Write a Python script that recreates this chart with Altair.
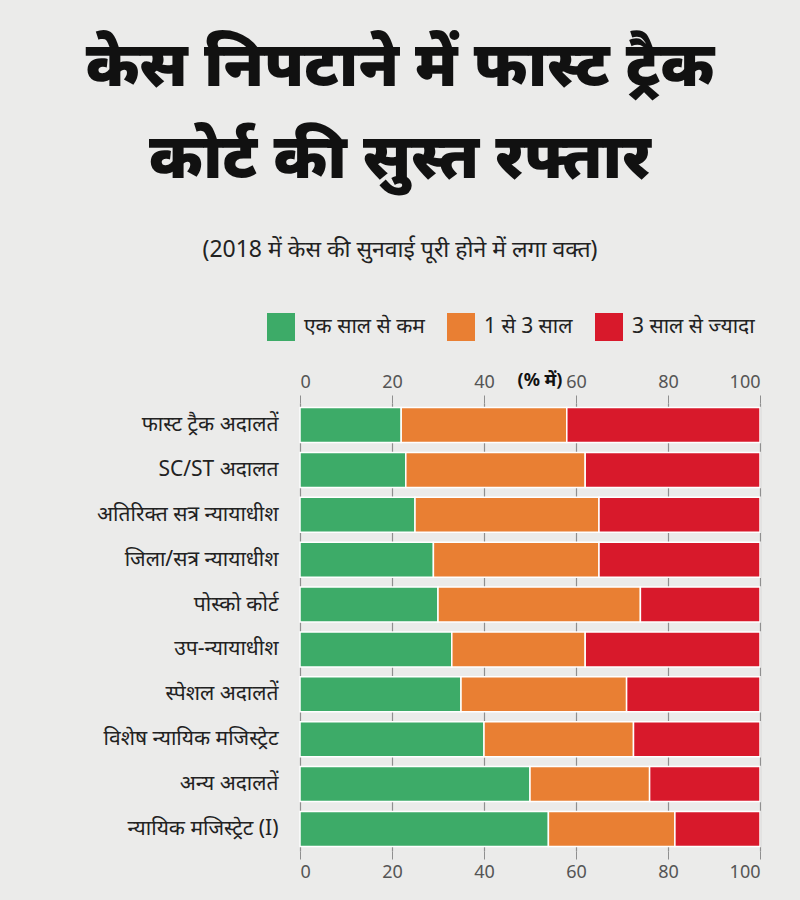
import altair as alt
import pandas as pd

categories = ["फास्ट ट्रैक अदालतें", "SC/ST अदालत", "अतिरिक्त सत्र न्यायाधीश",
              "जिला/सत्र न्यायाधीश", "पोस्को कोर्ट", "उप-न्यायाधीश",
              "स्पेशल अदालतें", "विशेष न्यायिक मजिस्ट्रेट", "अन्य अदालतें",
              "न्यायिक मजिस्ट्रेट (I)"]
series = ["एक साल से कम", "1 से 3 साल", "3 साल से ज्यादा"]
less_1 = [22, 23, 25, 29, 30, 33, 35, 40, 50, 54]
one_3 = [36, 39, 40, 36, 44, 29, 36, 32.5, 26, 27.5]
more_3 = [42, 38, 35, 35, 26, 38, 29, 27.5, 24, 18.5]
colors = ["#3dab68", "#e97f33", "#d8192b"]
x_ticks = [0, 20, 40, 60, 80, 100]
title_lines = ["केस निपटाने में फास्ट ट्रैक", "कोर्ट की सुस्त रफ्तार"]
subtitle = "(2018 में केस की सुनवाई पूरी होने में लगा वक्त)"
unit_label = "(% में)"

rows = []
for i, c in enumerate(categories):
    for j, (s, v) in enumerate(zip(series, [less_1[i], one_3[i], more_3[i]])):
        rows.append({"court": c, "series": s, "value": v, "order": j})
df = pd.DataFrame(rows)

FONT = "Noto Sans"

xscale = alt.Scale(domain=[0, 100], nice=False)

bars = alt.Chart(df).mark_bar(stroke="white", strokeWidth=1.5).encode(
    x=alt.X("value:Q", stack="zero", scale=xscale,
            axis=alt.Axis(orient="bottom", values=x_ticks, grid=True, gridColor="#8f8f8f",
                          gridWidth=1.2, domain=False, tickColor="#8f8f8f", tickSize=8,
                          labelFontSize=18, labelColor="#555", labelPadding=4, title=None,
                          labelFont=FONT)),
    y=alt.Y("court:N", sort=categories, scale=alt.Scale(paddingInner=0.22, paddingOuter=0.1),
            axis=alt.Axis(title=None, domain=False, ticks=False, labelFontSize=21,
                          labelColor="#222", labelPadding=22, labelFont=FONT, labelLimit=300)),
    color=alt.Color("series:N", sort=series, scale=alt.Scale(domain=series, range=colors),
                    legend=alt.Legend(title=None, orient="none", direction="horizontal",
                                      legendX=-33, legendY=-90, symbolType="square",
                                      symbolSize=784, symbolStrokeWidth=0, labelFontSize=21,
                                      labelColor="#222", labelFont=FONT, columnPadding=22,
                                      symbolOpacity=1, labelOffset=9)),
    order=alt.Order("order:Q"),
)

top_axis = alt.Chart(df).mark_bar(opacity=0).encode(
    x=alt.X("value:Q", stack="zero", scale=xscale,
            axis=alt.Axis(orient="top", values=x_ticks, grid=False, domain=False,
                          tickColor="#8f8f8f", tickSize=8, labelFontSize=18, labelColor="#555",
                          labelPadding=4, title=None, labelFont=FONT)),
    y=alt.Y("court:N", sort=categories),
)

tdf = pd.DataFrame({"t": title_lines, "yy": [-336, -244]})
title = alt.Chart(tdf).mark_text(fontSize=62, fontWeight=900, font=FONT, color="#111",
                                 align="center", baseline="middle").encode(
    text="t:N", x=alt.value(100), y=alt.Y("yy:Q", scale=None))

sdf = pd.DataFrame({"t": [subtitle], "yy": [-153]})
sub = alt.Chart(sdf).mark_text(fontSize=23, font=FONT, color="#222", align="center",
                               baseline="middle").encode(
    text="t:N", x=alt.value(100), y=alt.Y("yy:Q", scale=None))

udf = pd.DataFrame({"t": [unit_label], "yy": [-22]})
unit = alt.Chart(udf).mark_text(fontSize=18, fontWeight="bold", font=FONT, color="#111",
                                align="center", baseline="middle").encode(
    text="t:N", x=alt.value(240), y=alt.Y("yy:Q", scale=None))

chart = alt.layer(bars, top_axis, title, sub, unit).resolve_axis(x="independent").properties(
    width=460, height=448,
    autosize=alt.AutoSizeParams(type="none"),
    padding={"left": 300, "top": 403, "right": 40, "bottom": 49},
    background="#ebebea",
).configure_view(stroke=None)

chart.save("out.html", embed_options={"renderer": "svg", "actions": False})
